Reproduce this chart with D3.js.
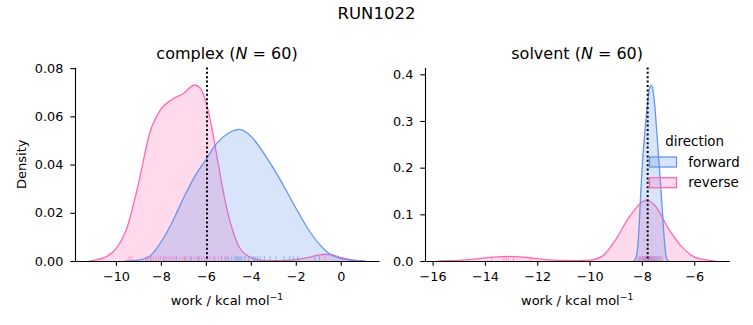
<!DOCTYPE html>
<html><head><meta charset="utf-8">
<script src="https://cdn.jsdelivr.net/npm/d3@7"></script>
<style>
body{margin:0;background:#fff;}
text{font-family:"DejaVu Sans",sans-serif;fill:#000;}
</style></head>
<body><svg id="c" width="753" height="325"></svg>
<script>
// ---------- data ----------
const directions = ["forward", "reverse"];
const colors = ["#6495ED", "#FF69B4"];
const suptitle = "RUN1022";
const panelNames = ["complex", "solvent"];
const panelN = [60, 60];
const xTicksComplex = [-10, -8, -6, -4, -2, 0];
const yTicksComplex = [0, 0.02, 0.04, 0.06, 0.08];
const xTicksSolvent = [-16, -14, -12, -10, -8, -6];
const yTicksSolvent = [0, 0.1, 0.2, 0.3, 0.4];

// complex, forward KDE
const cxFwdWork = [-9.6,-9,-8.5,-8,-7.5,-7,-6.5,-6,-5.5,-5,-4.5,-4,-3.5,-3,-2.5,-2,-1.5,-1,-0.5,0,0.5,1.1];
const cxFwdDens = [0,0.0004,0.002,0.0078,0.016,0.026,0.035,0.042,0.049,0.053,0.0546,0.0518,0.0458,0.0385,0.0305,0.022,0.014,0.0075,0.003,0.001,0.0003,0];
// complex, reverse KDE
const cxRevWork = [-11.2,-11,-10.5,-10,-9.5,-9,-8.5,-8,-7.5,-7,-6.5,-6.2,-6,-5.75,-5.5,-5.25,-5,-4.75,-4.5,-4,-3.5,-3,-2.5,-2,-1.5,-1,-0.7,-0.4,0,0.5,1.0];
const cxRevDens = [0,0.0003,0.0015,0.005,0.014,0.032,0.053,0.063,0.067,0.0695,0.073,0.071,0.066,0.056,0.043,0.030,0.019,0.011,0.0055,0.0015,0.0003,0.0001,0.0002,0.0006,0.0014,0.0024,0.0028,0.0026,0.0015,0.0005,0.0001];
// solvent, forward KDE
const svFwdWork = [-8.32,-8.24,-8.17,-8.11,-8.05,-7.98,-7.88,-7.78,-7.70,-7.65,-7.60,-7.52,-7.45,-7.37,-7.30,-7.22,-7.15,-7.09,-7.02,-6.96];
const svFwdDens = [0,0.005,0.025,0.07,0.14,0.21,0.28,0.34,0.372,0.377,0.372,0.34,0.291,0.23,0.175,0.11,0.05,0.015,0.002,0];
// solvent, reverse KDE
const svRevWork = [-15.8,-15.5,-15,-14.5,-14,-13.5,-13.1,-12.5,-12,-11.5,-11,-10.5,-10,-9.5,-9,-8.5,-8,-7.8,-7.5,-7,-6.5,-6,-5.5,-5.2];
const svRevDens = [0,0.0005,0.0015,0.0035,0.0065,0.009,0.0097,0.008,0.005,0.0025,0.0012,0.001,0.002,0.011,0.046,0.093,0.126,0.131,0.119,0.071,0.032,0.009,0.002,0];

// rug samples
const cxFwdRug = [-8.45,-7.82,-7.3,-6.93,-6.64,-6.3,-5.96,-5.59,-5.30,-5.15,-5.0,-4.85,-4.70,-4.63,-4.56,-4.48,-4.41,-4.26,-4.1,-3.89,-3.81,-3.71,-3.59,-3.4,-3.15,-2.88,-2.52,-2.26,-2.11,-1.91,-1.15,-0.95];
const cxRevRug = [-9.41,-9.30,-8.66,-8.58,-8.46,-8.34,-8.22,-8.10,-8.01,-7.89,-7.74,-7.63,-7.52,-7.42,-7.33,-7.15,-7.03,-6.93,-6.83,-6.71,-6.53,-6.41,-6.34,-6.19,-6.07,-5.96,-5.82,-5.67,-5.45,-5.30,-5.07,-0.70];
const svFwdRug = [-8.1,-8.0,-7.95,-7.9,-7.85,-7.8,-7.75,-7.7,-7.66,-7.62,-7.58,-7.52,-7.45,-7.38,-7.3];
const svRevRug = [-13.74,-13.27,-13.19,-13.10,-12.91,-12.24,-8.15,-8.05,-7.98,-7.92,-7.88,-7.85,-7.8,-7.76,-7.72,-7.68,-7.62,-7.55,-7.48,-7.4,-7.3,-7.22];

// mean/estimate lines
const vlineComplex = -5.95;
const vlineSolvent = -7.78;

// ---------- drawing ----------
const svg = d3.select("#c");
svg.append("text").attr("x", 376.5).attr("y", 19).attr("text-anchor", "middle")
  .style("font-size", "16.5px").text(suptitle);

const zip = (a, b) => a.map((v, i) => [v, b[i]]);

const panels = [
  {x0: 75, x1: 379, xdom: [-11.82, 1.70], ydom: [0, 0.0803], xt: xTicksComplex, yt: yTicksComplex, yf: ".2f",
   curves: [zip(cxFwdWork, cxFwdDens), zip(cxRevWork, cxRevDens)], rugs: [cxFwdRug, cxRevRug], vline: vlineComplex, ylabel: true},
  {x0: 425, x1: 729.3, xdom: [-16.29, -4.66], ydom: [0, 0.4148], xt: xTicksSolvent, yt: yTicksSolvent, yf: ".1f",
   curves: [zip(svFwdWork, svFwdDens), zip(svRevWork, svRevDens)], rugs: [svFwdRug, svRevRug], vline: vlineSolvent, ylabel: false}
];
const yTop = 67.4, yBot = 261;

panels.forEach((p, pi) => {
  const x = d3.scaleLinear().domain(p.xdom).range([p.x0, p.x1]);
  const y = d3.scaleLinear().domain(p.ydom).range([yBot, yTop]);
  const g = svg.append("g");

  const area = d3.area().x(d => x(d[0])).y0(y(0)).y1(d => y(d[1])).curve(d3.curveMonotoneX);
  const line = d3.line().x(d => x(d[0])).y(d => y(d[1])).curve(d3.curveMonotoneX);
  // reverse drawn first, forward on top
  [1, 0].forEach(k => {
    g.append("path").attr("d", area(p.curves[k])).attr("fill", colors[k]).attr("fill-opacity", 0.25);
    g.append("path").attr("d", line(p.curves[k])).attr("fill", "none").attr("stroke", colors[k]).attr("stroke-width", 1.3);
  });
  // rugs
  const rugH = 0.025 * (yBot - yTop);
  [0, 1].forEach(k => {
    g.selectAll(null).data(p.rugs[k]).join("line")
      .attr("x1", d => x(d)).attr("x2", d => x(d))
      .attr("y1", yBot).attr("y2", yBot - rugH)
      .attr("stroke", colors[k]).attr("stroke-width", 1).attr("stroke-opacity", 0.6);
  });
  // dotted vline
  g.append("line").attr("x1", x(p.vline)).attr("x2", x(p.vline)).attr("y1", yTop).attr("y2", yBot)
    .attr("stroke", "#000").attr("stroke-width", 2).attr("stroke-dasharray", "2,2.4");

  // axes
  const xa = g.append("g").attr("transform", `translate(0,${yBot})`)
    .call(d3.axisBottom(x).tickValues(p.xt).tickFormat(d3.format("d")).tickSizeOuter(0).tickSizeInner(4.7).tickPadding(6.3));
  const ya = g.append("g").attr("transform", `translate(${p.x0},0)`)
    .call(d3.axisLeft(y).tickValues(p.yt).tickFormat(d3.format(p.yf)).tickSizeOuter(0).tickSizeInner(4.7).tickPadding(7));
  [xa, ya].forEach(a => {
    a.select(".domain").attr("stroke", "#000").attr("stroke-width", 1.1);
    a.selectAll(".tick line").attr("stroke", "#000").attr("stroke-width", 1.1);
    a.selectAll(".tick text").style("font-size", "12.8px").style("font-family", "DejaVu Sans").attr("fill", "#000");
  });
  xa.selectAll(".tick text").attr("dy", "0.74em");

  // title
  const cx = (p.x0 + p.x1) / 2;
  const t = g.append("text").attr("x", cx).attr("y", 58.5).attr("text-anchor", "middle").style("font-size", "16px");
  t.append("tspan").text(panelNames[pi] + " (");
  t.append("tspan").style("font-style", "italic").text("N");
  t.append("tspan").text(" = " + panelN[pi] + ")");

  // x label
  const xl = g.append("text").attr("x", cx).attr("y", 305).attr("text-anchor", "middle").style("font-size", "13px");
  xl.append("tspan").text("work / kcal mol");
  xl.append("tspan").attr("dy", -5).style("font-size", "9.2px").text("\u22121");

  if (p.ylabel) {
    g.append("text").attr("transform", `translate(21.7,${(yTop + yBot) / 2}) rotate(-90)`)
      .attr("text-anchor", "middle").attr("dominant-baseline", "central").style("font-size", "13px").text("Density");
  }
});

// legend (in solvent panel)
const lg = svg.append("g");
lg.append("text").attr("x", 694.7).attr("y", 146).attr("text-anchor", "middle").style("font-size", "13.4px").text("direction");
directions.forEach((d, i) => {
  const yc = 162 + i * 20.7;
  lg.append("rect").attr("x", 649.5).attr("y", yc - 5).attr("width", 27).attr("height", 10)
    .attr("fill", colors[i]).attr("fill-opacity", 0.25).attr("stroke", colors[i]).attr("stroke-width", 1.3);
  lg.append("text").attr("x", 688.3).attr("y", yc + 4.5).style("font-size", "13.4px").text(d);
});
</script></body></html>
